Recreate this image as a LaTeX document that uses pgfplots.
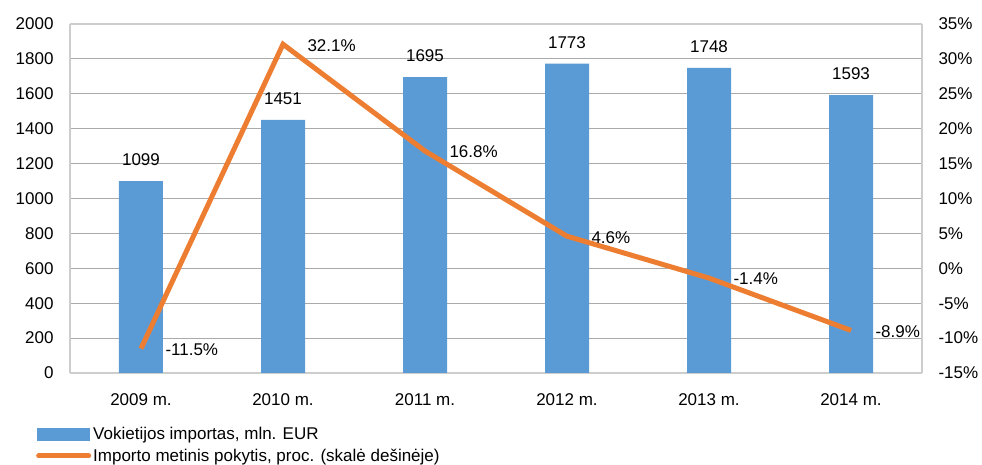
\documentclass[border=0pt]{standalone}
\usepackage{pgfplots}
\pgfplotsset{compat=1.18}
\usepackage{fontspec}
\setmainfont{Liberation Sans}
\definecolor{barblue}{RGB}{91,155,213}
\definecolor{lineorange}{RGB}{237,125,49}
\definecolor{gridgray}{RGB}{170,170,170}
\definecolor{framegray}{RGB}{205,205,205}
\begin{document}
\begin{tikzpicture}
\pgfplotsset{
  every axis/.append style={font=\fontsize{17}{20}\selectfont},
  mybase/.style={
    scale only axis, width=852pt, height=349pt,
    at={(0pt,0pt)}, anchor=south west,
    xmin=-0.5, xmax=5.5,
    major tick length=0pt,
    axis line style={draw=framegray, line width=1.2pt},
  }
}
\begin{axis}[
  mybase,
  ybar, bar width=44pt,
  ymin=0, ymax=2000,
  ytick={0,200,...,2000},
  yticklabels={0,200,400,600,800,1000,1200,1400,1600,1800,2000},
  yticklabel style={xshift=-13pt},
  xtick={0,...,5},
  xticklabels={2009 m.,2010 m.,2011 m.,2012 m.,2013 m.,2014 m.},
  xticklabel style={yshift=-17pt},
  ymajorgrids, grid style={draw=gridgray, line width=1pt},
  axis y line*=left,
  nodes near coords,
  point meta=explicit symbolic,
  every node near coord/.append style={anchor=south, inner sep=0pt, yshift=15pt, font=\fontsize{17}{20}\selectfont},
]
\addplot[fill=barblue, draw=none] coordinates {
  (0,1099) [1099]
  (1,1451) [1451]
  (2,1695) [1695]
  (3,1773) [1773]
  (4,1748) [1748]
  (5,1593) [1593]
};
\end{axis}
\begin{axis}[
  mybase,
  ymin=-15, ymax=35,
  ytick={-15,-10,...,35},
  yticklabels={-15\%,-10\%,-5\%,0\%,5\%,10\%,15\%,20\%,25\%,30\%,35\%},
  yticklabel style={xshift=13pt},
  axis y line*=right,
  axis x line=none,
  nodes near coords,
  point meta=explicit symbolic,
  every node near coord/.append style={anchor=west, inner sep=0pt, xshift=22pt, yshift=-1pt, font=\fontsize{17}{20}\selectfont},
  legend style={at={(axis description cs:0,0)}, anchor=north west, xshift=-34pt, yshift=-52pt,
    draw=none, fill=none, inner sep=0pt, row sep=4pt,
    font=\fontsize{17}{20}\selectfont, nodes={inner sep=2pt}},
  legend cell align=left,
]
\addlegendimage{legend image code/.code={\fill[barblue] (0pt,-6pt) rectangle (51pt,6pt);}}
\addlegendentry{Vokietijos importas, mln. EUR}
\addplot[draw=lineorange, line width=5pt, line join=miter, mark=none,
  legend image code/.code={\draw[lineorange, line width=5pt, line cap=round] (1pt,0pt) -- (51pt,0pt);}]
  coordinates {
  (0,-11.5) [-11.5\%]
  (1,32.1) [32.1\%]
  (2,16.8) [16.8\%]
  (3,4.6) [4.6\%]
  (4,-1.4) [-1.4\%]
  (5,-8.9) [-8.9\%]
};
\addlegendentry{Importo metinis pokytis, proc. (skalė dešinėje)}
\end{axis}
\pgfresetboundingbox
\path[use as bounding box] (-70pt,-92pt) rectangle (912pt,373pt);
\end{tikzpicture}
\end{document}
